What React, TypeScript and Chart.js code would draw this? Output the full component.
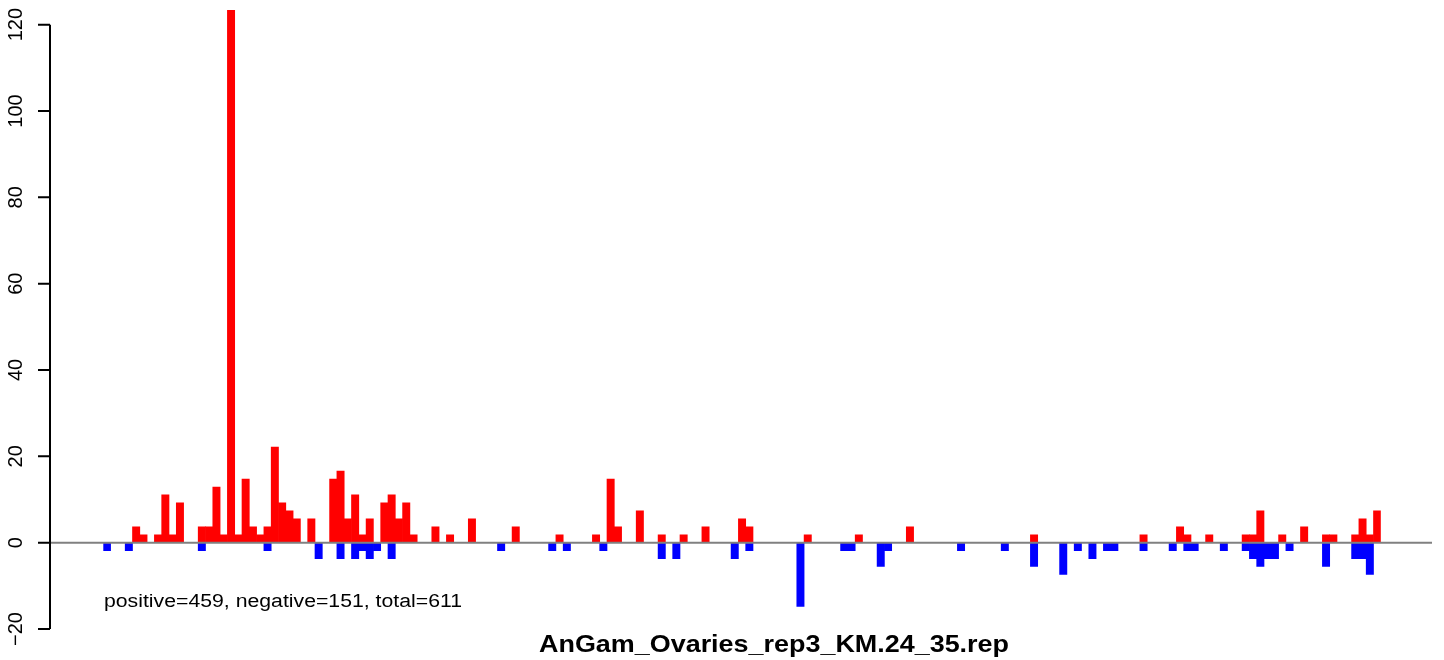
import React, { useEffect, useRef } from "react";
import { Chart, registerables } from "chart.js";

Chart.register(...registerables);

// Bin labels (175 bins along the read)
const BIN_LABELS: string[] = Array.from({ length: 175 }, (_, i) => String(i + 1));

// Positive-strand values (red)
const POSITIVE: number[] = [
  0, 0, 0, 0, 3.69, 1.84, 0, 1.84, 11.06, 1.84, 9.22, 0, 0, 3.69, 3.69, 12.9, 1.84, 123.5, 1.84, 14.75, 3.69, 1.84, 3.69, 22.12, 9.22,
  7.37, 5.53, 0, 5.53, 0, 0, 14.75, 16.59, 5.53, 11.06, 1.84, 5.53, 0, 9.22, 11.06, 5.53, 9.22, 1.84, 0, 0, 3.69, 0, 1.84, 0, 0,
  5.53, 0, 0, 0, 0, 0, 3.69, 0, 0, 0, 0, 0, 1.84, 0, 0, 0, 0, 1.84, 0, 14.75, 3.69, 0, 0, 7.37, 0,
  0, 1.84, 0, 0, 1.84, 0, 0, 3.69, 0, 0, 0, 0, 5.53, 3.69, 0, 0, 0, 0, 0, 0, 0, 1.84, 0, 0, 0,
  0, 0, 0, 1.84, 0, 0, 0, 0, 0, 0, 3.69, 0, 0, 0, 0, 0, 0, 0, 0, 0, 0, 0, 0, 0, 0,
  0, 0, 1.84, 0, 0, 0, 0, 0, 0, 0, 0, 0, 0, 0, 0, 0, 0, 1.84, 0, 0, 0, 0, 3.69, 1.84, 0,
  0, 1.84, 0, 0, 0, 0, 1.84, 1.84, 7.37, 0, 0, 1.84, 0, 0, 3.69, 0, 0, 1.84, 1.84, 0, 0, 1.84, 5.53, 1.84, 7.37,
];

// Negative-strand values (blue)
const NEGATIVE: number[] = [
  -1.84, 0, 0, -1.84, 0, 0, 0, 0, 0, 0, 0, 0, 0, -1.84, 0, 0, 0, 0, 0, 0, 0, 0, -1.84, 0, 0,
  0, 0, 0, 0, -3.69, 0, 0, -3.69, 0, -3.69, -1.84, -3.69, -1.84, 0, -3.69, 0, 0, 0, 0, 0, 0, 0, 0, 0, 0,
  0, 0, 0, 0, -1.84, 0, 0, 0, 0, 0, 0, -1.84, 0, -1.84, 0, 0, 0, 0, -1.84, 0, 0, 0, 0, 0, 0,
  0, -3.69, 0, -3.69, 0, 0, 0, 0, 0, 0, 0, -3.69, 0, -1.84, 0, 0, 0, 0, 0, 0, -14.75, 0, 0, 0, 0,
  0, -1.84, -1.84, 0, 0, 0, -5.53, -1.84, 0, 0, 0, 0, 0, 0, 0, 0, 0, -1.84, 0, 0, 0, 0, 0, -1.84, 0,
  0, 0, -5.53, 0, 0, 0, -7.37, 0, -1.84, 0, -3.69, 0, -1.84, -1.84, 0, 0, 0, -1.84, 0, 0, 0, -1.84, 0, -1.84, -1.84,
  0, 0, 0, -1.84, 0, 0, -1.84, -3.69, -5.53, -3.69, -3.69, 0, -1.84, 0, 0, 0, 0, -5.53, 0, 0, 0, -3.69, -3.69, -7.37, 0,
];

const Y_TICKS: number[] = [-20, 0, 20, 40, 60, 80, 100, 120];
const TITLE = "AnGam_Ovaries_rep3_KM.24_35.rep";
const SUMMARY = "positive=459, negative=151, total=611";

const W = 1444;
const H = 660;

// empty bins are not drawn at all
const toBars = (arr: number[]) => arr.map((v) => (v === 0 ? null : v));

const overlayPlugin = {
  id: "rOverlay",
  afterDatasetsDraw(chart: any) {
    const { ctx } = chart;
    const ys = chart.scales.y;
    const axisX = 50;
    const y0 = ys.getPixelForValue(0);
    ctx.save();

    // zero line (abline h=0)
    ctx.strokeStyle = "#808080";
    ctx.lineWidth = 2;
    ctx.beginPath();
    ctx.moveTo(axisX, y0);
    ctx.lineTo(1432, y0);
    ctx.stroke();

    // y axis
    ctx.strokeStyle = "#000";
    ctx.lineWidth = 2;
    ctx.beginPath();
    ctx.moveTo(axisX, ys.getPixelForValue(Y_TICKS[0]));
    ctx.lineTo(axisX, ys.getPixelForValue(Y_TICKS[Y_TICKS.length - 1]));
    ctx.stroke();
    ctx.beginPath();
    for (const t of Y_TICKS) {
      const py = ys.getPixelForValue(t);
      ctx.moveTo(axisX - 12, py);
      ctx.lineTo(axisX, py);
    }
    ctx.stroke();

    ctx.fillStyle = "#000";
    ctx.font = '20px "Liberation Sans", Arial, Helvetica, sans-serif';
    ctx.textAlign = "center";
    ctx.textBaseline = "alphabetic";
    for (const t of Y_TICKS) {
      const py = ys.getPixelForValue(t);
      ctx.save();
      ctx.translate(22, py);
      ctx.rotate(-Math.PI / 2);
      ctx.fillText(String(t).replace("-", "\u2212"), 0, 0);
      ctx.restore();
    }

    // summary text
    ctx.font = '18px "Liberation Sans", Arial, Helvetica, sans-serif';
    ctx.textAlign = "left";
    const sw = ctx.measureText(SUMMARY).width;
    ctx.save();
    ctx.translate(104, 607);
    ctx.scale(358 / sw, 1);
    ctx.fillText(SUMMARY, 0, 0);
    ctx.restore();

    // title
    ctx.font = 'bold 24px "Liberation Sans", Arial, Helvetica, sans-serif';
    ctx.textAlign = "center";
    const tw = ctx.measureText(TITLE).width;
    ctx.save();
    ctx.translate(774, 652);
    ctx.scale(470 / tw, 1);
    ctx.fillText(TITLE, 0, 0);
    ctx.restore();

    ctx.restore();
  },
};

export default function App() {
  const canvasRef = useRef<HTMLCanvasElement | null>(null);

  useEffect(() => {
    const canvas = canvasRef.current;
    if (!canvas) return;
    const chart = new Chart(canvas, {
      type: "bar",
      data: {
        labels: BIN_LABELS,
        datasets: [
          {
            label: "positive",
            data: toBars(POSITIVE),
            backgroundColor: "#ff0000",
            borderWidth: 0,
            barPercentage: 1,
            categoryPercentage: 1,
            grouped: false,
          },
          {
            label: "negative",
            data: toBars(NEGATIVE),
            backgroundColor: "#0000ff",
            borderWidth: 0,
            barPercentage: 1,
            categoryPercentage: 1,
            grouped: false,
          },
        ],
      },
      options: {
        animation: false,
        responsive: false,
        devicePixelRatio: 1,
        events: [],
        layout: { padding: { left: 103.3, right: 63.2, top: 10, bottom: 14 } },
        plugins: {
          legend: { display: false },
          tooltip: { enabled: false },
          title: { display: false },
        },
        scales: {
          x: { type: "category", display: false, offset: true, grid: { display: false } },
          y: { display: false, min: -23.94, max: 123.4, grid: { display: false } },
        },
      },
      plugins: [overlayPlugin],
    });
    return () => chart.destroy();
  }, []);

  return (
    <div style={{ position: "absolute", left: 0, top: 0, width: W, height: H, background: "#fff" }}>
      <canvas ref={canvasRef} width={W} height={H} style={{ display: "block", width: W, height: H }} />
    </div>
  );
}
